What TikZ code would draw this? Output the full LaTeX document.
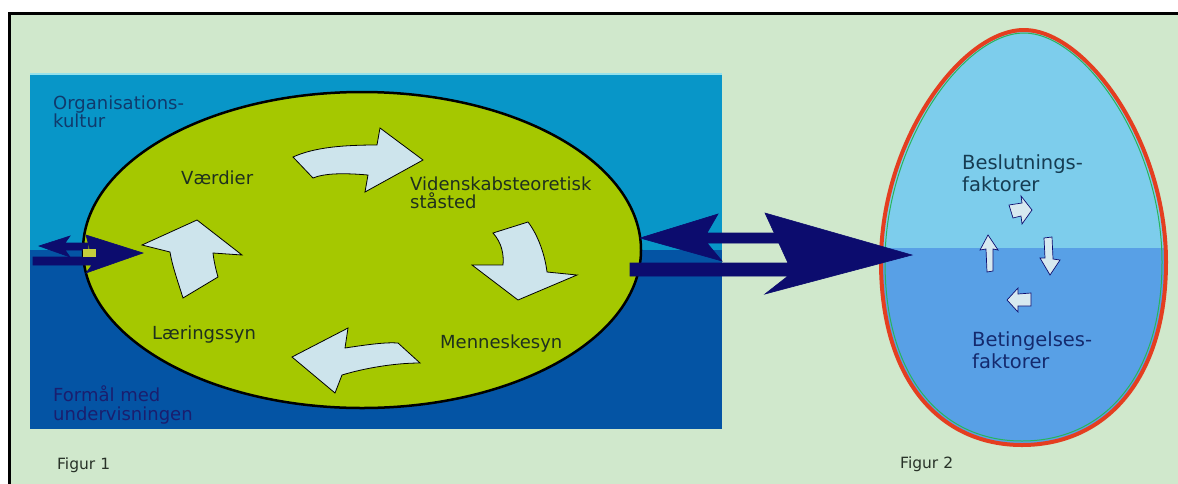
\documentclass[tikz,border=0pt]{standalone}
\usepackage{fontspec}
\setmainfont{DejaVu Sans}
\usetikzlibrary{calc,shapes.geometric}

\definecolor{paper}{RGB}{208,232,204}
\definecolor{bluetop}{RGB}{8,150,200}
\definecolor{bluebot}{RGB}{4,84,164}
\definecolor{bluerim}{RGB}{150,225,235}
\definecolor{lime}{RGB}{165,200,0}
\definecolor{navy}{RGB}{12,12,110}
\definecolor{pale}{RGB}{205,228,236}
\definecolor{eggtop}{RGB}{125,205,236}
\definecolor{eggbot}{RGB}{88,160,230}
\definecolor{eggrim}{RGB}{228,62,32}
\definecolor{eggline}{RGB}{40,180,90}
\definecolor{txtdark}{RGB}{30,48,30}
\definecolor{txtorg}{RGB}{16,58,108}
\definecolor{txtform}{RGB}{26,30,110}
\definecolor{txtbes}{RGB}{22,60,82}
\definecolor{txtbet}{RGB}{20,42,110}
\definecolor{txtfig}{RGB}{40,50,40}
\definecolor{gap}{RGB}{196,206,60}

\tikzset{
  lbl/.style={inner sep=0pt, anchor=west, align=left,
              font=\fontsize{18}{18.5}\selectfont},
  lblbig/.style={inner sep=0pt, anchor=west, align=left,
              font=\fontsize{19.5}{22}\selectfont},
  figlbl/.style={inner sep=0pt, anchor=west, text=txtfig,
              font=\fontsize{15.5}{16}\selectfont},
  bigarrow/.style={fill=navy, draw=navy, line width=0.6pt, line join=miter},
  cyclearrow/.style={fill=pale, draw=black, line width=0.8pt, line join=miter},
  smallarrow/.style={fill=pale!80!white, draw=navy, line width=0.7pt, line join=miter},
}

\begin{document}
\begin{tikzpicture}[x=1pt, y=-1pt]
\useasboundingbox (0,0) rectangle (1178,483);
\clip (0,0) rectangle (1178,483);

% page and frame
\fill[white] (0,0) rectangle (1178,483);
\fill[paper] (9.5,13.5) rectangle (1190,495);
\draw[black, line width=3pt] (9.5,495) -- (9.5,13.5) -- (1190,13.5);

% ---------- Figur 1 ----------
\fill[bluerim] (30,73) rectangle (722,76);
\fill[bluetop] (30,75) rectangle (722,250);
\fill[bluebot] (30,250) rectangle (722,429);

\node[draw=black, line width=2.5pt, fill=lime, ellipse, minimum width=558pt,
      minimum height=316pt, inner sep=0pt] (oval) at (362,250) {};

% cycle arrows inside the oval
\draw[cyclearrow] (293,157) .. controls (315,147) and (345,145) .. (377,145)
  -- (380,128) -- (423,160) -- (365,192) -- (368,175)
  .. controls (345,173) and (325,173) .. (313,178) -- cycle;
\draw[cyclearrow] (493,233) .. controls (502,243) and (504,255) .. (503,265)
  -- (472,265) -- (518,300) -- (577,275) -- (547,272)
  .. controls (545,255) and (538,235) .. (528,222) -- cycle;
\draw[cyclearrow] (292,357) -- (348,328) -- (345,348)
  .. controls (365,345) and (385,342) .. (398,343) -- (420,363)
  .. controls (395,363) and (365,368) .. (342,375) -- (335,393) -- cycle;
\draw[cyclearrow] (197,220) -- (242,255) -- (213,253)
  .. controls (214,262) and (216,270) .. (218,277) -- (183,298)
  .. controls (178,282) and (172,265) .. (170,252) -- (142,245) -- cycle;

% small double arrow on the left rim
\coordinate (inL) at (143,253);
\coordinate (outL) at (39,246);
\fill[bigarrow] (outL) -- (70,236) -- (65,243) -- (88,243) -- (88,250)
  -- (65,250) -- (70,257) -- cycle;
\fill[bigarrow] (33,257) -- (92,257) -- (86,235) -- (inL) -- (86,273)
  -- (92,265) -- (33,265) -- cycle;
\fill[gap] (83,249) rectangle (96,257);

% labels of Figur 1
\node[lbl, text=txtorg] (org) at (53,112) {Organisations-\\kultur};
\node[lbl, text=txtdark] (vaerdier) at (181,178) {Værdier};
\node[lbl, text=txtdark] (viden) at (410,193) {Videnskabsteoretisk\\ståsted};
\node[lbl, text=txtdark] (menneske) at (440,344) {Menneskesyn};
\node[lbl, text=txtdark] (laering) at (152,335) {Læringssyn};
\node[lbl, text=txtform] (formaal) at (53,405) {Formål med\\undervisningen};
\node[figlbl] (fig1) at (57,465) {Figur 1};

% ---------- Figur 2 ----------
\coordinate (eggT) at (1024,30);
\coordinate (eggR) at (1166,262);
\coordinate (eggB) at (1022,445);
\coordinate (eggL) at (881,262);
\begin{scope}
  \clip (eggT) .. controls (1085,30) and (1166,140) .. (eggR)
    .. controls (1166,380) and (1105,445) .. (eggB)
    .. controls (940,445) and (881,380) .. (eggL)
    .. controls (881,140) and (962,30) .. (eggT) -- cycle;
  \fill[eggtop] (870,20) rectangle (1178,248);
  \fill[eggbot] (870,248) rectangle (1178,460);
\end{scope}
\draw[eggline, line width=1pt] (1024,33) .. controls (1083,33) and (1162,142) .. (1162,262)
    .. controls (1162,378) and (1103,441) .. (1022,441)
    .. controls (942,441) and (885,378) .. (885,262)
    .. controls (885,142) and (964,33) .. (1024,33) -- cycle;
\draw[eggrim, line width=4pt] (eggT) .. controls (1085,30) and (1166,140) .. (eggR)
    .. controls (1166,380) and (1105,445) .. (eggB)
    .. controls (940,445) and (881,380) .. (eggL)
    .. controls (881,140) and (962,30) .. (eggT) -- cycle;

% small cycle arrows inside the egg
\draw[smallarrow] (1009,205) -- (1022,203) -- (1021,196) -- (1032,210)
  -- (1022,224) -- (1021,216) -- (1013,218) -- cycle;
\draw[smallarrow] (988,235) -- (998,250) -- (993,249) -- (993,271)
  -- (987,272) -- (986,249) -- (980,250) -- cycle;
\draw[smallarrow] (1044,238) -- (1052,237) -- (1053,259) -- (1060,260)
  -- (1050,275) -- (1040,258) -- (1045,258) -- cycle;
\draw[smallarrow] (1007,300) -- (1018,288) -- (1018,294) -- (1031,293)
  -- (1031,306) -- (1018,306) -- (1018,312) -- cycle;

% labels of Figur 2
\node[lblbig, text=txtbes] (beslut) at (962,173) {Beslutnings-\\faktorer};
\node[lblbig, text=txtbet] (beting) at (972,350) {Betingelses-\\faktorer};
\node[figlbl] (fig2) at (900,464) {Figur 2};

% ---------- link between the two figures ----------
\coordinate (linkL) at (640,238);
\coordinate (linkR) at (912,255);
\fill[bigarrow] (linkL) -- (718,214) -- (707,233) -- (790,233) -- (790,243)
  -- (707,243) -- (722,261) -- cycle;
\fill[bigarrow] (630,263) -- (788,263) -- (765,213) -- (linkR) -- (765,294)
  -- (788,276) -- (630,276) -- cycle;
\end{tikzpicture}
\end{document}
